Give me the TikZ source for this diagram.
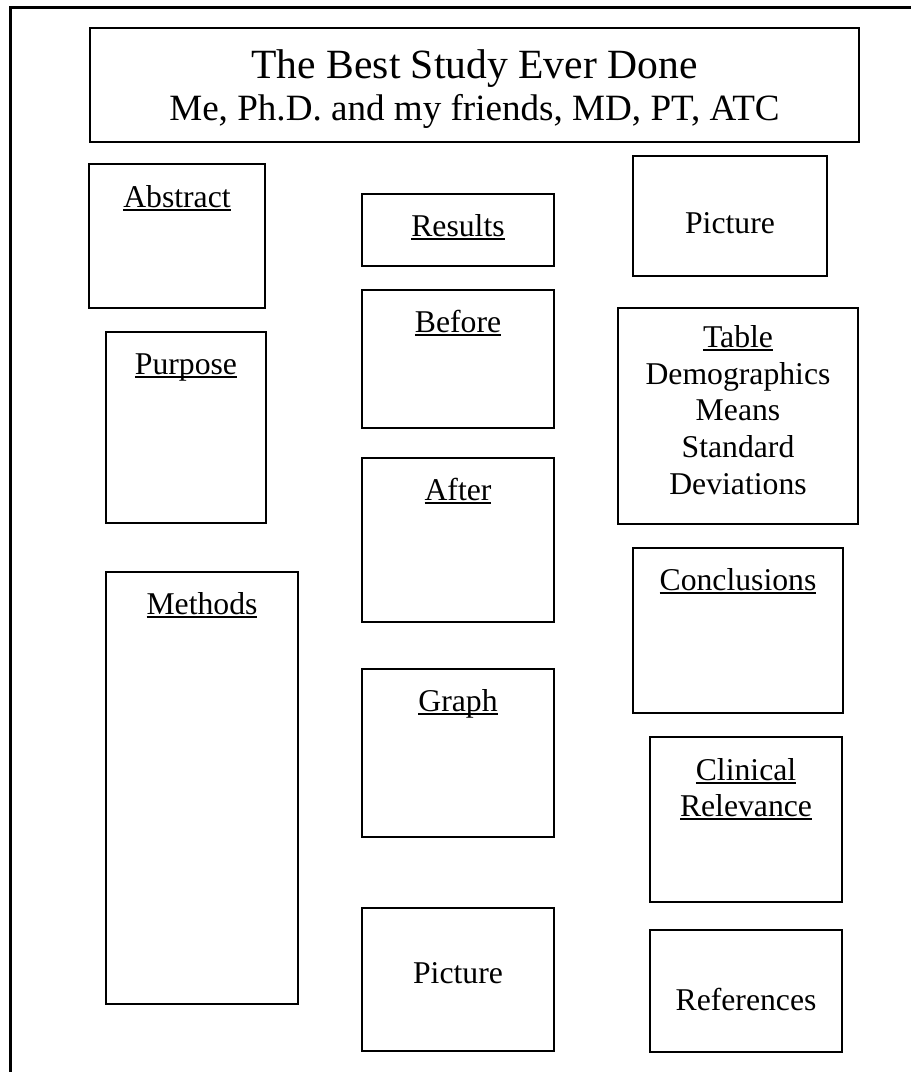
\documentclass[tikz,border=0pt]{standalone}
\usepackage{fontspec}
\setmainfont{Liberation Serif}
\newcommand{\myul}[1]{\setbox0\hbox{#1}\rlap{\rule[-3.6pt]{\wd0}{1.9pt}}\box0}
\newcommand{\panelbox}[5]{\node[panel,minimum width={#4-#2},minimum height={#5-#3}] (#1) at (#2,#3) {};}
\begin{document}
\begin{tikzpicture}[x=1pt,y=-1pt,
  panel/.style={draw,line width=2pt,anchor=north west,inner sep=0pt,outer sep=0pt},
  lbl/.style={anchor=base,inner sep=0pt,font=\fontsize{31.7}{36.5}\selectfont},
  titleA/.style={anchor=base,inner sep=0pt,font=\fontsize{41.6}{48}\selectfont},
  titleB/.style={anchor=base,inner sep=0pt,font=\fontsize{37.1}{44}\selectfont},
]
\useasboundingbox (0,0) rectangle (911,1072);
\begin{scope}
\clip (0,0) rectangle (911,1072);
\draw[line width=3pt] (10.5,7.5) rectangle (940,1110);
\end{scope}
% panels
\panelbox{title}{90}{28}{859}{142}
\panelbox{abstract}{89}{164}{265}{308}
\panelbox{purpose}{106}{332}{266}{523}
\panelbox{methods}{106}{572}{298}{1004}
\panelbox{results}{362}{194}{554}{266}
\panelbox{before}{362}{290}{554}{428}
\panelbox{after}{362}{458}{554}{622}
\panelbox{graph}{362}{669}{554}{837}
\panelbox{pictureB}{362}{908}{554}{1051}
\panelbox{pictureA}{633}{156}{827}{276}
\panelbox{table}{618}{308}{858}{524}
\panelbox{conclusions}{633}{548}{843}{713}
\panelbox{clinical}{650}{737}{842}{902}
\panelbox{references}{650}{930}{842}{1052}
% texts
\node[titleA] (titleL1) at (474.5,78) {The Best Study Ever Done};
\node[titleB] (titleL2) at (474.5,120) {Me, Ph.D. and my friends, MD, PT, ATC};
\node[lbl] (abstractT) at (177,207) {\myul{Abstract}};
\node[lbl] (purposeT) at (186,374) {\myul{Purpose}};
\node[lbl] (methodsT) at (202,614) {\myul{Methods}};
\node[lbl] (resultsT) at (458,236) {\myul{Results}};
\node[lbl] (beforeT) at (458,332) {\myul{Before}};
\node[lbl] (afterT) at (458,500) {\myul{After}};
\node[lbl] (graphT) at (458,711) {\myul{Graph}};
\node[lbl] (pictureBT) at (458,983) {Picture};
\node[lbl] (pictureAT) at (730,233) {Picture};
\node[lbl] (tableT1) at (738,347) {\myul{Table}};
\node[lbl] (tableT2) at (738,384) {Demographics};
\node[lbl] (tableT3) at (738,420) {Means};
\node[lbl] (tableT4) at (738,457) {Standard};
\node[lbl] (tableT5) at (738,494) {Deviations};
\node[lbl] (conclusionsT) at (738,590) {\myul{Conclusions}};
\node[lbl] (clinicalT1) at (746,780) {\myul{Clinical}};
\node[lbl] (clinicalT2) at (746,816) {\myul{Relevance}};
\node[lbl] (referencesT) at (746,1010) {References};
\end{tikzpicture}
\end{document}
